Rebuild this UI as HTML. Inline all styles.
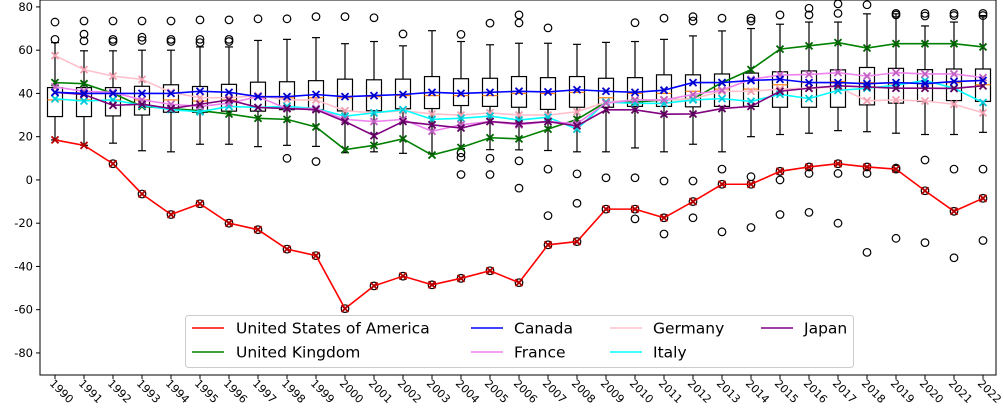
<!DOCTYPE html>
<html><head><meta charset="utf-8"><style>
body{margin:0;background:#fff;}
svg{display:block;font-family:"DejaVu Sans","Liberation Sans",sans-serif;}
</style></head><body>
<svg id="chart" width="1004" height="420"></svg>
<script>
const years=[1990,1991,1992,1993,1994,1995,1996,1997,1998,1999,2000,2001,2002,2003,2004,2005,2006,2007,2008,2009,2010,2011,2012,2013,2014,2015,2016,2017,2018,2019,2020,2021,2022];
const usa=[18.5,16,7.5,-6.5,-16,-11,-20,-23,-32,-35,-59.5,-49,-44.5,-48.5,-45.5,-42,-47.5,-30,-28.5,-13.5,-13.5,-17.5,-10,-2,-2,4,6,7.5,6,5,-5,-14.5,-8.5];
const uk=[45,44.5,40,34,33,32,30.5,28.5,28,24.5,14,16,19,11.5,15,19.5,19,23.5,28,36,36,37,37.5,45,51,60.5,62,63.5,61,63,63,63,61.5];
const canada=[40.5,40,40,40,40,41,40.5,38.5,38.5,39.5,38.5,39,39.5,40.5,40,40.5,41,40.7,41.7,41,40.5,41.5,45,45,46,46.5,45,45,44.5,45,44.5,45.5,46];
const germany=[57.5,51,48,46.5,40.5,38,38,39,37,37,32,31,32,30.5,30,31,30,30,31.5,36,37,37,37.5,41,41,42,42.4,43,36.6,37,36.5,35,31];
const france=[43,41,40.5,37,35,34,35.5,38.5,33,33,28,27,28,22.5,25.5,27,25.5,27,26,35.5,37,37,39.5,41.5,46.5,48.5,48.8,49.6,48,49.6,49,49,47.3];
const italy=[37.5,36.5,37,34.5,32.5,31.5,34,33.5,34,33,29.5,31,32.5,28,28.5,29.5,27.7,29,23.5,36,35.4,35.4,37,37.6,36.3,39.6,37.6,41.4,42.4,43.8,46,42.4,35.8];
const japan=[40.5,39.5,34.5,35,33,35,37,33.5,33,32.5,27,20.5,27,25.5,24,27,26,27,25,32.4,32.4,30.4,30.5,33,34,41,42.4,43.5,43,42.4,42.4,42.3,43.5];
const boxQ1=[29.3,29.3,29.6,30,31.3,31.3,31.8,31.8,32.5,32.5,31.9,32,32.9,33,34.4,34,33.6,32.6,33.6,33.6,34,34,33.8,34,34,33.6,33.6,33.6,34.7,35.5,36.3,36.7,36.3];
const boxMed=[37,37,37,37,37,36.5,37,38,38,38,38,38.5,39,39,39,39,40,40,40.5,38,40,40,41,42,42,44,45,45.5,45,44.5,44.5,45,44];
const boxQ3=[42.7,42.7,42.7,43.3,44,43.2,44.2,45.2,45.4,45.9,46.6,46.3,46.6,47.8,46.8,47,47.8,47.3,47.8,47,47.3,48.6,48.6,49,49.4,50,50.4,50.9,52,51.6,51,51.3,51.3];
const whiskLo=[18.5,16,17,13.5,13,16.5,16.5,15.4,16,15.5,12.6,13,12.3,12,14.5,14,13.9,13.6,13,13,14.8,13,16.5,13,20,21,21.6,22.8,22.3,21.6,21,21,22];
const whiskHi=[63.5,59.7,59.7,60,60,61.5,61.5,64.5,65,65.8,63,64,62,69,64,62.5,63.2,63.2,62.7,63.6,64,65,66.6,68.9,70,72,73,73,76.8,76.8,71.2,73,76];
const outliers=[[73,65],[73.5,67.4,64.3],[73.5,65,64],[73.5,66,64.5],[73.5,65,64],[74,65,63.5],[74,65,64],[74.5],[74.5,10],[75.5,8.5],[75.5],[75],[67.5],[],[67.3,12.5,10.5,2.5],[72.5,10,2.5],[76.3,72.6,8.8,-3.8],[70.3,5,-16.5],[2.8,-10.8],[1],[72.7,1,-18],[74.8,-0.5,-25],[75.5,73.5,-0.5,-17.5],[74.8,5,-24],[74.8,73.5,1.5,-22],[76.3,0,-16],[79.4,76.3,3,-15],[81.4,77,3,-20],[81,3,-33.5],[77,76.3,5.5,-27],[77,75.8,9.2,-29],[77,76,5,-36],[77,76,5,-28]];
const yTicks=[-80,-60,-40,-20,0,20,40,60,80];
const L=40,R=996,T=0,B=375,x0=55,dx=29;
const yMin=-90.2,yMax=83.2;
const X=i=>x0+i*dx;
const Y=v=>B-(v-yMin)/(yMax-yMin)*(B-T);
const NS='http://www.w3.org/2000/svg';
const svg=document.getElementById('chart');
function mk(tag,attrs,parent){const e=document.createElementNS(NS,tag);for(const k in attrs)e.setAttribute(k,attrs[k]);(parent||svg).appendChild(e);return e;}
const bg=mk('g',{});


years.forEach((yr,i)=>{
  const g=mk('g',{stroke:'#000','stroke-width':1.2,fill:'none'},bg);
  
  
  const cx=X(i),w=7.5;
  mk('line',{x1:cx,x2:cx,y1:Y(boxQ3[i]),y2:Y(whiskHi[i])},g);
  mk('line',{x1:cx,x2:cx,y1:Y(boxQ1[i]),y2:Y(whiskLo[i])},g);
  mk('line',{x1:cx-4,x2:cx+4,y1:Y(whiskHi[i]),y2:Y(whiskHi[i])},g);
  mk('line',{x1:cx-4,x2:cx+4,y1:Y(whiskLo[i]),y2:Y(whiskLo[i])},g);
  mk('rect',{x:cx-w,y:Y(boxQ3[i]),width:2*w,height:Y(boxQ1[i])-Y(boxQ3[i])},g);
  mk('line',{x1:cx-w,x2:cx+w,y1:Y(boxMed[i]),y2:Y(boxMed[i]),stroke:'#ff7f0e'},g);
  const extra=outliers[i].slice();
  if(usa[i]<whiskLo[i]-0.3)extra.push(usa[i]);
  extra.forEach(v=>{const c=mk('circle',{cx:cx,cy:Y(v),r:3.8},g);
    
    });
});
const series=[['united-states',usa,'#ff0000','#b00000'],['united-kingdom',uk,'#008000','#006400'],['germany',germany,'#ffc0cb','#f0a0b0'],['italy',italy,'#00ffff','#00c8d8'],['france',france,'#ee82ee','#c060c0'],['japan',japan,'#800080','#600060'],['canada',canada,'#0000ff','#0000cc']];
series.forEach(([nm,vals,col,mcol])=>{
  const g=mk('g',{});
  
  
  mk('polyline',{points:vals.map((v,i)=>X(i)+','+Y(v)).join(' '),fill:'none',stroke:col,'stroke-width':1.6},g);
  vals.forEach((v,i)=>{const cx=X(i),cy=Y(v),s=3.5;
    mk('path',{d:`M${cx-s},${cy-s}L${cx+s},${cy+s}M${cx-s},${cy+s}L${cx+s},${cy-s}`,stroke:mcol,'stroke-width':1.8},g);});
});
// axes
const ax=mk('g',{});


mk('rect',{x:L,y:T,width:R-L,height:B-T,fill:'none',stroke:'#000','stroke-width':1},ax);
yTicks.forEach(v=>{mk('line',{x1:L-4,x2:L,y1:Y(v),y2:Y(v),stroke:'#000'},ax);
  const t=mk('text',{x:L-7,y:Y(v)+4,'text-anchor':'end','font-size':11.5,fill:'#000'},ax);t.textContent=v;
  
  });
years.forEach((yr,i)=>{mk('line',{x1:X(i),x2:X(i),y1:B,y2:B+4,stroke:'#000'},ax);
  const t=mk('text',{x:0,y:0,'font-size':11,fill:'#000',transform:`translate(${X(i)-6},${B+9}) rotate(45)`},ax);t.textContent=yr;
  
  });
</script>
<svg width="1004" height="420" style="position:absolute;left:0;top:0">
<g font-family="DejaVu Sans, Liberation Sans, sans-serif" font-size="15.5">
<rect x="185.5" y="315.5" width="668" height="52" rx="3" fill="#fff" fill-opacity="0.85" stroke="#ccc"/>
<g><line x1="192" x2="224" y1="328" y2="328" stroke="#ff0000" stroke-width="1.6"/><text x="236" y="333.5">United States of America</text></g>
<g><line x1="192" x2="224" y1="352" y2="352" stroke="#008000" stroke-width="1.6"/><text x="236" y="357.5">United Kingdom</text></g>
<g><line x1="471" x2="503" y1="328" y2="328" stroke="#0000ff" stroke-width="1.6"/><text x="514" y="333.5">Canada</text></g>
<g><line x1="471" x2="503" y1="352" y2="352" stroke="#ee82ee" stroke-width="1.6"/><text x="514" y="357.5">France</text></g>
<g><line x1="610" x2="642" y1="328" y2="328" stroke="#ffc0cb" stroke-width="1.6"/><text x="653" y="333.5">Germany</text></g>
<g><line x1="610" x2="642" y1="352" y2="352" stroke="#00ffff" stroke-width="1.6"/><text x="653" y="357.5">Italy</text></g>
<g><line x1="761" x2="793" y1="328" y2="328" stroke="#800080" stroke-width="1.6"/><text x="804" y="333.5">Japan</text></g>
</g></svg>
</body></html>
